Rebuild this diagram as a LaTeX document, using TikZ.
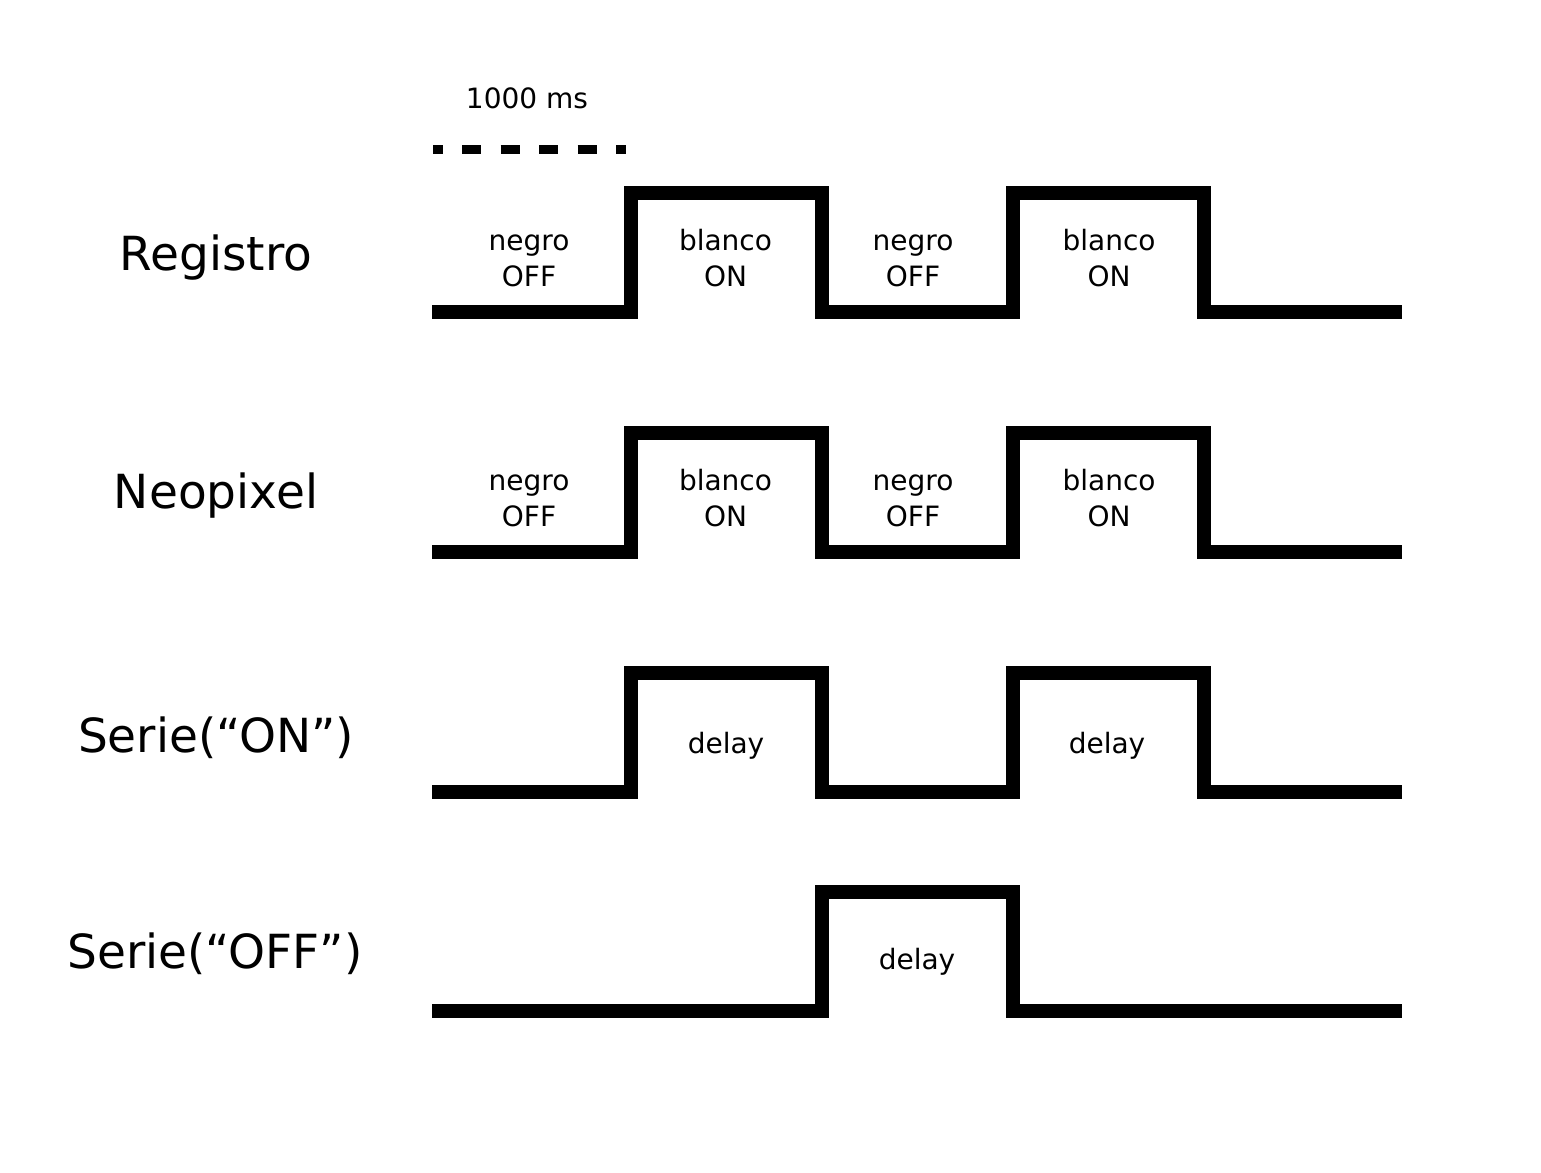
\documentclass[tikz,border=0pt]{standalone}
\usepackage{fontspec}
\setmainfont{DejaVu Sans}
\begin{document}
\begin{tikzpicture}[x=0.5pt,y=-0.5pt,
  signal/.style={line width=7pt, line join=miter, line cap=butt},
  rowlabel/.style={anchor=base, font=\fontsize{23.5}{28}\selectfont, inner sep=0pt},
  statelabel/.style={anchor=base, font=\fontsize{14}{17}\selectfont, inner sep=0pt},
  ticklabel/.style={anchor=base, font=\fontsize{14}{17}\selectfont, inner sep=0pt}]
\useasboundingbox[fill=white] (0,0) rectangle (1541,1172);

% scale
\node[ticklabel] (ms) at (527,109) {1000 ms};
\draw[line width=4.5pt, dash pattern=on 9.5pt off 9.75pt, dash phase=4.75pt] (433,149.5) -- (626,149.5);

% row labels
\node[rowlabel] (reg) at (216,270) {Registro};
\node[rowlabel] (neo) at (216,508) {Neopixel};
\node[rowlabel] (son) at (216,752) {Serie(“ON”)};
\node[rowlabel] (soff) at (215,968) {Serie(“OFF”)};

% Registro
\draw[signal] (432,312) -- (631,312) -- (631,192.5) -- (822,192.5) -- (822,312) -- (1013,312) -- (1013,192.5) -- (1204,192.5) -- (1204,312) -- (1402,312);
\node[statelabel] (r1a) at (529,250) {negro};
\node[statelabel] (r1b) at (529,286) {OFF};
\node[statelabel] (r2a) at (725.5,250) {blanco};
\node[statelabel] (r2b) at (725.5,286) {ON};
\node[statelabel] (r3a) at (913,250) {negro};
\node[statelabel] (r3b) at (913,286) {OFF};
\node[statelabel] (r4a) at (1109,250) {blanco};
\node[statelabel] (r4b) at (1109,286) {ON};

% Neopixel
\draw[signal] (432,552) -- (631,552) -- (631,432.5) -- (822,432.5) -- (822,552) -- (1013,552) -- (1013,432.5) -- (1204,432.5) -- (1204,552) -- (1402,552);
\node[statelabel] (n1a) at (529,490) {negro};
\node[statelabel] (n1b) at (529,526) {OFF};
\node[statelabel] (n2a) at (725.5,490) {blanco};
\node[statelabel] (n2b) at (725.5,526) {ON};
\node[statelabel] (n3a) at (913,490) {negro};
\node[statelabel] (n3b) at (913,526) {OFF};
\node[statelabel] (n4a) at (1109,490) {blanco};
\node[statelabel] (n4b) at (1109,526) {ON};

% Serie ON
\draw[signal] (432,792) -- (631,792) -- (631,672.5) -- (822,672.5) -- (822,792) -- (1013,792) -- (1013,672.5) -- (1204,672.5) -- (1204,792) -- (1402,792);
\node[statelabel] (d1) at (726,753) {delay};
\node[statelabel] (d2) at (1107,753) {delay};

% Serie OFF
\draw[signal] (432,1011) -- (822,1011) -- (822,891.5) -- (1013,891.5) -- (1013,1011) -- (1402,1011);
\node[statelabel] (d3) at (917,969) {delay};
\end{tikzpicture}
\end{document}
